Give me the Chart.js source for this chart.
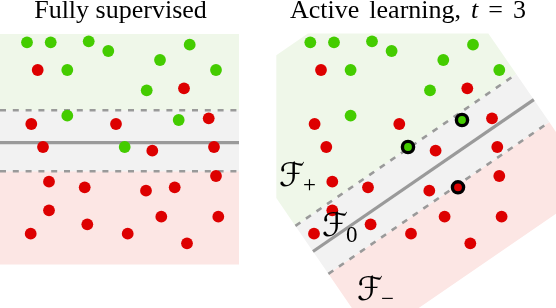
<!DOCTYPE html>
<html>
<head>
<meta charset="utf-8">
<script src="https://cdn.jsdelivr.net/npm/chart.js@4.4.1/dist/chart.umd.min.js"></script>
<style>
  html, body { margin: 0; padding: 0; background: #ffffff; }
  body { width: 556px; height: 308px; position: relative; overflow: hidden; }
  canvas { position: absolute; top: 0; }
  #left { left: 0; }
  #right { left: 276px; }
  .title { position: absolute; top: -3px; font-family: "Liberation Serif", serif; font-size: 26px; line-height: 26px; text-align: center; color: #000; white-space: nowrap; }
  .lab { position: absolute; font-family: "DejaVu Sans", serif; font-size: 33px; line-height: 33px; color: #000; white-space: nowrap; }
  .lab sub { font-family: "Liberation Serif", serif; font-size: 23px; vertical-align: -6px; margin-left: -2px; }
</style>
</head>
<body>
<canvas id="left" width="278" height="308"></canvas>
<canvas id="right" width="280" height="308"></canvas>
<div class="title" style="left:0px;width:241px;">Fully supervised</div>
<div class="title" style="left:288px;width:240px;word-spacing:3.5px;">Active learning, <i>t</i> = 3</div>
<div class="lab" style="left:279px;top:158px;">ℱ<sub>+</sub></div>
<div class="lab" style="left:322px;top:208px;">ℱ<sub>0</sub></div>
<div class="lab" style="left:357px;top:272px;">ℱ<sub>−</sub></div>
<script>
// ---- data (panel units: left-panel pixels) ----
const GREEN_X = [27, 50.7, 88.7, 108.3, 189.7, 160, 67.3, 216, 146.7, 67.3, 178.7, 124.7];
const GREEN_Y = [42.3, 42.3, 41.3, 51, 44.7, 60, 70, 70, 90.3, 115.7, 120, 147];
const RED_X = [37.7, 184, 31.3, 116, 208.7, 43, 152.3, 214, 216, 49, 84.7, 146, 174.7, 49, 87.3, 161.3, 218.3, 30.7, 127.7, 187];
const RED_Y = [70, 88.3, 124, 124, 118.3, 147, 150.7, 147, 176, 181.7, 187.3, 190.7, 187.3, 210.3, 224.3, 216.7, 216.7, 233.7, 233.7, 243.3];
const QUERIED_GREEN = [10, 11];
const QUERIED_RED = [12];

// ---- region geometry ----
const LEFT_X = [0, 239];
const LEFT_BANDS = [34, 110.3, 142.7, 171.3, 264.5]; // top, upper margin, boundary, lower margin, bottom
const RIGHT_SHIFT = 283.3;
const RIGHT_ANGLE_DEG = 34.5;
const RIGHT_ALONG = [115.5, 383.5];
const RIGHT_BANDS = [202, 353.5, 384.5, 411.7, 491];
const RIGHT_CLIP = [276.3 - 283.3, 556 - 283.3, 33.5, 308]; // xmin, xmax, ymin, ymax

const C_GREEN = '#44cc00', C_RED = '#dd0000';
const F_GREEN = '#eff7e9', F_GREY = '#f2f2f2', F_PINK = '#fce6e4';
const LINE_C = '#9a9a9a';

function pts(xs, ys, idx) {
  const ids = idx || xs.map((_, i) => i);
  return ids.map(i => ({ x: xs[i], y: ys[i] }));
}
const th = RIGHT_ANGLE_DEG * Math.PI / 180, cs = Math.cos(th), sn = Math.sin(th);
function frame(e, d) { return { x: e * cs + d * sn - RIGHT_SHIFT, y: -e * sn + d * cs }; }

function clipPoly(poly, [x0, x1, y0, y1]) {
  const edges = [
    [p => p.x >= x0, (a, b) => { const t = (x0 - a.x) / (b.x - a.x); return { x: x0, y: a.y + t * (b.y - a.y) }; }],
    [p => p.x <= x1, (a, b) => { const t = (x1 - a.x) / (b.x - a.x); return { x: x1, y: a.y + t * (b.y - a.y) }; }],
    [p => p.y >= y0, (a, b) => { const t = (y0 - a.y) / (b.y - a.y); return { x: a.x + t * (b.x - a.x), y: y0 }; }],
    [p => p.y <= y1, (a, b) => { const t = (y1 - a.y) / (b.y - a.y); return { x: a.x + t * (b.x - a.x), y: y1 }; }]
  ];
  let out = poly;
  for (const [inside, inter] of edges) {
    const inp = out; out = [];
    for (let i = 0; i < inp.length; i++) {
      const cur = inp[i], prev = inp[(i + inp.length - 1) % inp.length];
      if (inside(cur)) { if (!inside(prev)) out.push(inter(prev, cur)); out.push(cur); }
      else if (inside(prev)) out.push(inter(prev, cur));
    }
  }
  return out;
}

function polyDs(data, color) {
  return { data: data.concat([data[0]]), showLine: true, fill: 'shape', backgroundColor: color,
           borderWidth: 0, borderColor: 'rgba(0,0,0,0)', pointRadius: 0, order: 10 };
}
function lineDs(data, dashed) {
  return { data, showLine: true, fill: false, borderColor: LINE_C, borderWidth: dashed ? 2.6 : 3.2,
           borderDash: dashed ? [6, 6.8] : [], pointRadius: 0, order: 5, borderCapStyle: 'butt' };
}
function pointDs(data, color) {
  return { data, showLine: false, pointRadius: 5.9, pointBackgroundColor: color, pointBorderWidth: 0, order: 2 };
}
function ringDs(data, color) {
  return { data, showLine: false, pointRadius: 5.6, pointBackgroundColor: color, pointBorderColor: '#000',
           pointBorderWidth: 3.4, order: 1 };
}

function makeChart(id, xmin, xmax, datasets) {
  return new Chart(document.getElementById(id), {
    type: 'scatter',
    data: { datasets },
    options: {
      responsive: false, animation: false, events: [],
      layout: { padding: 0, autoPadding: false },
      plugins: { legend: { display: false }, tooltip: { enabled: false }, title: { display: false } },
      scales: {
        x: { type: 'linear', display: false, min: xmin, max: xmax },
        y: { type: 'linear', display: false, min: 0, max: 308, reverse: true }
      }
    }
  });
}

// ---- left panel ----
const rect = (x0, x1, y0, y1) => [{ x: x0, y: y0 }, { x: x1, y: y0 }, { x: x1, y: y1 }, { x: x0, y: y1 }];
const [lx0, lx1] = LEFT_X;
const [b0, b1, b2, b3, b4] = LEFT_BANDS;
makeChart('left', 0, 278, [
  pointDs(pts(GREEN_X, GREEN_Y), C_GREEN),
  pointDs(pts(RED_X, RED_Y), C_RED),
  lineDs([{ x: lx0, y: b1 }, { x: lx1, y: b1 }], true),
  lineDs([{ x: lx0, y: b2 }, { x: lx1, y: b2 }], false),
  lineDs([{ x: lx0, y: b3 }, { x: lx1, y: b3 }], true),
  polyDs(rect(lx0, lx1, b0, b1), F_GREEN),
  polyDs(rect(lx0, lx1, b1, b3), F_GREY),
  polyDs(rect(lx0, lx1, b3, b4), F_PINK)
]);

// ---- right panel ----
const [e0, e1] = RIGHT_ALONG;
const [r0, r1, r2, r3, r4] = RIGHT_BANDS;
const rrect = (d0, d1) => clipPoly([frame(e0, d0), frame(e1, d0), frame(e1, d1), frame(e0, d1)], RIGHT_CLIP);
const rline = d => [frame(e0, d), frame(e1, d)];
makeChart('right', 276 - RIGHT_SHIFT, 556 - RIGHT_SHIFT, [
  ringDs(pts(GREEN_X, GREEN_Y, QUERIED_GREEN), C_GREEN),
  ringDs(pts(RED_X, RED_Y, QUERIED_RED), C_RED),
  pointDs(pts(GREEN_X, GREEN_Y), C_GREEN),
  pointDs(pts(RED_X, RED_Y), C_RED),
  lineDs(rline(r1), true),
  lineDs(rline(r2), false),
  lineDs(rline(r3), true),
  polyDs(rrect(r0, r1), F_GREEN),
  polyDs(rrect(r1, r3), F_GREY),
  polyDs(rrect(r3, r4), F_PINK)
]);
</script>
</body>
</html>
